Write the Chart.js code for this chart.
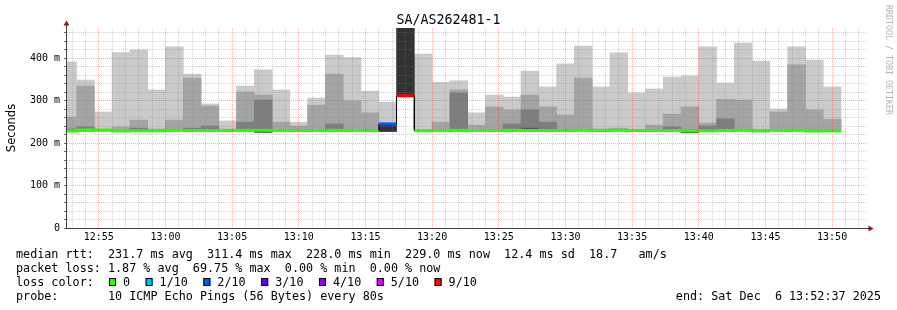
<!DOCTYPE html>
<html>
<head>
<meta charset="utf-8">
<script src="https://cdn.jsdelivr.net/npm/chart.js@4.4.1/dist/chart.umd.min.js"></script>
<style>
  html, body { margin: 0; padding: 0; background: #fff; }
  #wrap { width: 897px; height: 310px; }
</style>
</head>
<body>
<div id="wrap"><canvas id="smoke" width="897" height="310"></canvas></div>
<script>
// smokeping style graph: 10 pings every 80s, last hour
const graphTitle = 'SA/AS262481-1';
const rangeStart = '12:52:37';
const rangeEnd = '13:52:37';
const binSeconds = 80;

const binStart = [
  '12:52:00', '12:53:20', '12:54:40', '12:56:00', '12:57:20', '12:58:40',
  '13:00:00', '13:01:20', '13:02:40', '13:04:00', '13:05:20', '13:06:40',
  '13:08:00', '13:09:20', '13:10:40', '13:12:00', '13:13:20', '13:14:40',
  '13:16:00', '13:17:20', '13:18:40', '13:20:00', '13:21:20', '13:22:40',
  '13:24:00', '13:25:20', '13:26:40', '13:28:00', '13:29:20', '13:30:40',
  '13:32:00', '13:33:20', '13:34:40', '13:36:00', '13:37:20', '13:38:40',
  '13:40:00', '13:41:20', '13:42:40', '13:44:00', '13:45:20', '13:46:40',
  '13:48:00', '13:49:20'
];

// ms; smoke bands from the outside (max ping) inwards
const pingMin = [227, 227, 227, 225, 227, 226, 227, 227, 227, 227, 227, 227, 227, 227, 227, 227, 227, 227, 227, null, 227, 227,
  227, 227, 227, 227, 227, 227, 227, 227, 227, 227, 227, 227, 227, 227, 227, 227, 227, 224, 227, 227, 225, 226];
const smokeOuter = [391, 348, 273, 413, 419, 325, 426, 362, 292, 252, 334, 372, 325, 249, 306, 407, 401, 322, 296, null, 409, 343,
  346, 271, 313, 308, 369, 332, 386, 428, 332, 412, 318, 327, 355, 358, 426, 341, 435, 393, 280, 426, 395, 332];
const smokeMid = [261, 334, 232, 238, 254, 233, 254, 353, 287, 233, 320, 313, 249, 240, 289, 362, 299, 271, null, null, 231, 249,
  325, 242, 285, 278, 313, 285, 266, 353, 233, 235, null, 242, 268, 285, 247, 303, 301, null, 273, 384, 278, 256];
const smokeInner = [233, 238, null, null, 235, null, null, 235, 240, null, 249, 301, null, null, null, 245, null, null, null, null, null, null,
  318, null, null, 245, 278, 249, null, null, null, null, null, null, 238, null, 240, 257, null, null, null, null, null, null];
const smokeCore = [null, null, null, null, null, null, null, null, null, null, null, 231, null, null, null, null, null, null, null, null, null, null,
  null, null, null, null, 235, null, null, null, null, null, null, null, null, 231, null, null, null, null, null, null, null, null];
const smokeLow = [228, 228, 228, 228, 228, 228, 228, 228, 228, 228, 228, 225, 228, 228, 228, 228, 228, 228, 228, 228, 228, 228,
  228, 228, 228, 228, 228, 228, 228, 228, 228, 228, 228, 228, 228, 224, 228, 228, 228, 228, 228, 228, 228, 228];
const lostLow = [null, null, null, null, null, null, null, null, null, null, null, null, null, null, null, null, null, null, 227, 312, null, null,
  null, null, null, null, null, null, null, null, null, null, null, null, null, null, null, null, null, null, null, null, null, null];
const lostHigh = [null, null, null, null, null, null, null, null, null, null, null, null, null, null, null, null, null, null, 245, 480, null, null,
  null, null, null, null, null, null, null, null, null, null, null, null, null, null, null, null, null, null, null, null, null, null];

const median = [228.0, 230.5, 230.5, 229, 229, 229, 230, 229.5, 229.5, 229.5, 230, 230, 229.5, 229.5, 229.5, 230, 229.5, 229.5, 245, 311.4, 229, 229.5,
  230, 229.5, 229.5, 230, 229.5, 229.5, 229.5, 230, 229.5, 230, 229.5, 229.5, 229.5, 229, 229, 229.5, 230, 229.5, 229.5, 230, 229, 229];
// index into lossLabels
const lossIdx = [0, 0, 0, 0, 0, 0, 0, 0, 0, 0, 0, 0, 0, 0, 0, 0, 0, 0, 2, 6, 0, 0,
  0, 0, 0, 0, 0, 0, 0, 0, 0, 0, 0, 0, 0, 0, 0, 0, 0, 0, 0, 0, 0, 0];

const lossLabels = ['0', '1/10', '2/10', '3/10', '4/10', '5/10', '9/10'];
const lossColors = ['#26ff00', '#00b8ff', '#0059ff', '#5e00ff', '#7e00ff', '#dd00ff', '#ff0000'];

const legendRows = [
  'median rtt:  231.7 ms avg  311.4 ms max  228.0 ms min  229.0 ms now  12.4 ms sd  18.7   am/s',
  'packet loss: 1.87 % avg  69.75 % max  0.00 % min  0.00 % now'
];
const lossRowLabel = 'loss color:';
const probeRow = 'probe:       10 ICMP Echo Pings (56 Bytes) every 80s';
const endRow = 'end: Sat Dec  6 13:52:37 2025';
const watermark = 'RRDTOOL / TOBI OETIKER';

function toMin(t) {
  const [h, m, s] = t.split(':').map(Number);
  return (h - 12) * 60 + m + (s || 0) / 60;
}
function clock(v) {
  const h = 12 + Math.floor(v / 60);
  return h + ':' + String(v % 60).padStart(2, '0');
}

const binMid = binStart.map(t => toMin(t) + binSeconds / 120);
function band(lo, hi) {
  return binMid.map((x, i) => ({ x, y: hi[i] == null ? null : [lo[i], hi[i]] }));
}

const medianPts = [];
binStart.forEach((t, i) => {
  const s = toMin(t);
  medianPts.push({ x: s, y: median[i] }, { x: s + binSeconds / 60, y: median[i] });
});

function smokeSet(lo, hi, color, order) {
  return {
    type: 'bar',
    data: band(lo, hi),
    backgroundColor: color,
    borderWidth: 0,
    barThickness: 'flex',
    categoryPercentage: 1,
    barPercentage: 1,
    stack: 'smoke',
    clip: 0,
    order: order
  };
}

const MONO = '"DejaVu Sans Mono"';
Chart.defaults.font.family = MONO;
Chart.defaults.color = '#000';

const minorGrid = 'rgba(128,128,128,0.36)';
const majorGrid = 'rgba(225,40,40,0.36)';

const smokeFrame = {
  id: 'smokeFrame',
  beforeDraw(chart) {
    const { ctx, width, height } = chart;
    ctx.save();
    ctx.fillStyle = '#fff';
    ctx.fillRect(0, 0, width, height);
    ctx.restore();
  },
  afterDraw(chart) {
    const { ctx, chartArea: a, width } = chart;
    ctx.save();

    // axes with arrows
    ctx.strokeStyle = '#404040';
    ctx.lineWidth = 1;
    ctx.beginPath();
    ctx.moveTo(a.left - 0.5, a.bottom + 0.5);
    ctx.lineTo(a.left - 0.5, a.top - 4);
    ctx.moveTo(a.left - 1, a.bottom + 0.5);
    ctx.lineTo(a.right + 3, a.bottom + 0.5);
    ctx.stroke();
    ctx.fillStyle = '#8f1d1d';
    ctx.beginPath();
    ctx.moveTo(a.left - 0.5, a.top - 7.5);
    ctx.lineTo(a.left - 3.5, a.top - 2.5);
    ctx.lineTo(a.left + 2.5, a.top - 2.5);
    ctx.closePath();
    ctx.fill();
    ctx.beginPath();
    ctx.moveTo(a.right + 6.5, a.bottom + 0.5);
    ctx.lineTo(a.right + 1.5, a.bottom - 2.5);
    ctx.lineTo(a.right + 1.5, a.bottom + 3.5);
    ctx.closePath();
    ctx.fill();

    // title
    ctx.fillStyle = '#000';
    ctx.font = '13.3px ' + MONO;
    ctx.textAlign = 'center';
    ctx.textBaseline = 'alphabetic';
    ctx.fillText(graphTitle, width / 2, 24);

    // watermark on the right edge
    ctx.save();
    ctx.translate(888, 5);
    ctx.rotate(Math.PI / 2);
    ctx.font = '8.3px ' + MONO;
    ctx.fillStyle = '#b4b4b4';
    ctx.textAlign = 'left';
    ctx.textBaseline = 'middle';
    ctx.fillText(watermark, 0, 0);
    ctx.restore();

    // legend
    ctx.font = '11.75px ' + MONO;
    ctx.fillStyle = '#000';
    ctx.textAlign = 'left';
    ctx.textBaseline = 'alphabetic';
    const x0 = 16;
    ctx.fillText(legendRows[0], x0, 258);
    ctx.fillText(legendRows[1], x0, 272);
    ctx.fillText(lossRowLabel, x0, 286);
    let bx = 109;
    lossLabels.forEach((lab, i) => {
      ctx.fillStyle = lossColors[i];
      ctx.fillRect(bx, 278, 7, 8);
      ctx.strokeStyle = '#000';
      ctx.strokeRect(bx + 0.5, 278.5, 6, 7);
      ctx.fillStyle = '#000';
      ctx.fillText(lab, bx + 14, 286);
      bx += 14 + ctx.measureText(lab).width + 15.5;
    });
    ctx.fillText(probeRow, x0, 300);
    ctx.textAlign = 'right';
    ctx.fillText(endRow, 881, 300);
    ctx.restore();
  }
};

new Chart(document.getElementById('smoke'), {
  type: 'bar',
  data: {
    datasets: [
      {
        type: 'line',
        data: medianPts,
        borderColor: lossColors[0],
        borderWidth: 3,
        pointRadius: 0,
        tension: 0,
        clip: 0,
        order: 0,
        segment: {
          borderColor: c => {
            const a = c.p0DataIndex >> 1, b = c.p1DataIndex >> 1;
            if (a === b || lossIdx[a] === lossIdx[b]) return lossColors[lossIdx[a]];
            return '#000';
          },
          borderWidth: c => {
            const a = c.p0DataIndex >> 1, b = c.p1DataIndex >> 1;
            return (a === b || lossIdx[a] === lossIdx[b]) ? 3 : 1;
          }
        }
      },
      smokeSet(lostLow, lostHigh, '#323232', 1),
      smokeSet(smokeLow, smokeCore, '#585858', 2),
      smokeSet(smokeLow, smokeInner, '#7e7e7e', 3),
      smokeSet(smokeLow, smokeMid, '#a4a4a4', 4),
      smokeSet(pingMin, smokeOuter, '#cacaca', 5)
    ]
  },
  options: {
    responsive: false,
    animation: false,
    devicePixelRatio: 1,
    layout: { padding: { left: 0, top: 28, right: 30, bottom: 62 } },
    plugins: { legend: { display: false }, tooltip: { enabled: false }, title: { display: false } },
    scales: {
      x: {
        type: 'linear',
        min: toMin(rangeStart),
        max: toMin(rangeEnd),
        offset: false,
        afterBuildTicks: axis => {
          const ticks = [];
          for (let v = Math.ceil(axis.min); v <= axis.max; v++) ticks.push({ value: v });
          axis.ticks = ticks;
        },
        afterFit: axis => { axis.height = 20; },
        ticks: {
          autoSkip: false,
          maxRotation: 0,
          padding: 3,
          font: { size: 10 },
          color: '#000',
          callback: v => (v % 5 === 0 ? clock(v) : '')
        },
        grid: {
          offset: false,
          drawTicks: false,
          z: 1,
          color: c => (c.tick && c.tick.value % 5 === 0 ? majorGrid : minorGrid)
        },
        border: { display: false, dash: [1, 1] }
      },
      y: {
        type: 'linear',
        min: 0,
        max: 470.6,
        stacked: false,
        afterFit: axis => { axis.width = 67; },
        ticks: {
          stepSize: 20,
          includeBounds: false,
          autoSkip: false,
          padding: 4,
          font: { size: 10 },
          color: '#000',
          callback: v => (v % 100 === 0 ? (v === 0 ? '0' : v + ' m') : '')
        },
        grid: {
          drawTicks: true,
          tickLength: 3,
          tickColor: 'rgba(70,70,70,0.8)',
          z: 1,
          color: c => (c.tick && c.tick.value % 100 === 0 ? majorGrid : minorGrid)
        },
        border: { display: false, dash: [1, 1] },
        title: {
          display: true,
          text: 'Seconds',
          font: { family: '"DejaVu Sans"', size: 11.5 },
          color: '#000',
          padding: { top: 5, bottom: 0 }
        }
      }
    }
  },
  plugins: [smokeFrame]
});
</script>
</body>
</html>
